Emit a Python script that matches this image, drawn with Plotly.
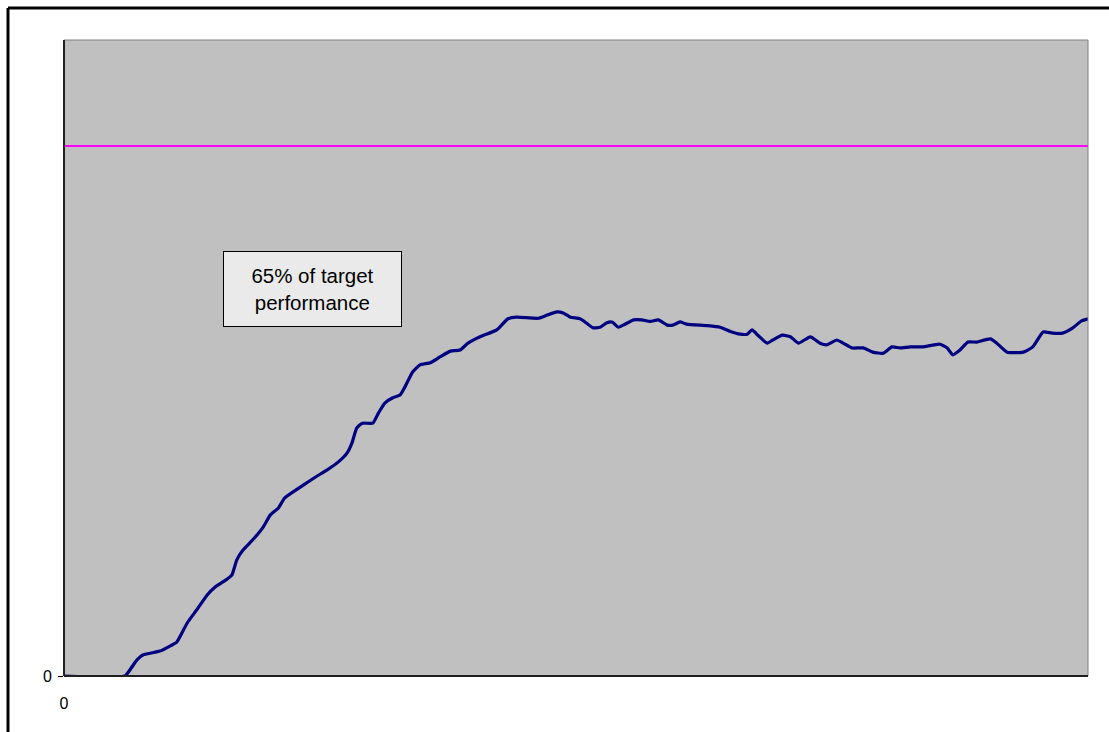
import plotly.graph_objects as go

# Performance over time (x in sample units, y in % of target)
time_x = [0, 7.6, 8.4, 9.1, 9.9, 10.8, 12.0, 13.3, 14.1, 15.4, 16.6, 17.9, 18.9, 20.4, 21.0,
          21.6, 22.4, 23.6, 24.9, 25.8, 26.8, 27.6, 29.9, 31.4, 32.9, 34.3, 35.4, 36.0, 36.6,
          37.3, 38.6, 39.3, 40.1, 41.1, 42.0, 42.6, 43.6, 44.5, 45.8, 47.0, 48.3, 49.5, 50.5,
          52.0, 54.1, 55.5, 56.6, 59.3, 60.4, 61.6, 62.4, 63.3, 64.5, 65.3, 66.1, 67.0, 67.8,
          68.5, 69.3, 69.9, 71.2, 72.2, 73.3, 74.3, 75.4, 76.1, 77.0, 77.8, 80.4, 82.0, 83.3,
          84.5, 85.4, 86.0, 86.8, 87.9, 88.6, 89.8, 90.8, 91.8, 93.3, 94.5, 95.4, 96.6, 97.4,
          98.5, 99.9, 101.1, 102.4, 103.5, 104.5, 105.8, 107.3, 109.5, 110.4, 111.1, 112.0,
          113.0, 114.1, 115.8, 116.6, 117.9, 119.9, 121.1, 122.4, 123.5, 124.8, 126.1, 127.2,
          128.0]
performance = [0, 0, 1.5, 3.0, 4.0, 4.3, 4.7, 5.7, 6.4, 10.0, 12.5, 15.3, 16.8, 18.3, 19.1,
               21.9, 23.8, 25.7, 28.1, 30.4, 31.7, 33.6, 36.0, 37.5, 38.9, 40.4, 42.1, 44.0, 46.8,
               47.7, 47.7, 49.6, 51.5, 52.5, 53.0, 54.5, 57.4, 58.7, 59.1, 60.2, 61.3, 61.5, 62.8,
               64.0, 65.3, 67.4, 67.7, 67.5, 68.1, 68.7, 68.5, 67.7, 67.4, 66.6, 65.7, 65.8, 66.6,
               66.8, 65.8, 66.2, 67.2, 67.2, 66.9, 67.2, 66.2, 66.2, 66.8, 66.4, 66.1, 65.8, 65.0,
               64.5, 64.5, 65.3, 64.2, 62.8, 63.4, 64.3, 64.0, 62.8, 64.0, 62.8, 62.5, 63.4, 62.8,
               61.9, 61.9, 61.1, 60.9, 62.1, 61.9, 62.1, 62.1, 62.6, 61.9, 60.6, 61.5,
               63.0, 63.0, 63.6, 62.8, 61.1, 61.1, 62.1, 64.9, 64.7, 64.7, 65.7, 67.0,
               67.4]

target_x = [0, 128]
target_y = [100, 100]

x_range = [0, 128]
y_range = [0, 120]

fig = go.Figure()

fig.add_trace(go.Scatter(
    x=target_x, y=target_y, mode="lines",
    line=dict(color="#FF00FF", width=2), hoverinfo="skip", showlegend=False,
))
fig.add_trace(go.Scatter(
    x=time_x, y=performance, mode="lines",
    line=dict(color="#000080", width=3.2, shape="spline", smoothing=0.5),
    showlegend=False,
))

fig.update_layout(
    width=1109, height=732,
    margin=dict(l=64, r=21, t=40, b=56),
    paper_bgcolor="white",
    plot_bgcolor="#C0C0C0",
    font=dict(family="Arial, Liberation Sans, sans-serif", color="black", size=16),
    xaxis=dict(
        range=x_range, tickvals=[0], ticktext=["0"], showgrid=False, zeroline=False,
        showline=False, ticks="outside", ticklen=13, tickcolor="rgba(0,0,0,0)",
        fixedrange=True,
    ),
    yaxis=dict(
        range=y_range, tickvals=[0], ticktext=["0"], showgrid=False, zeroline=False,
        showline=False, ticks="outside", ticklen=5, tickwidth=1, tickcolor="black",
        ticklabelstandoff=3, fixedrange=True,
    ),
    shapes=[
        # plot area frame
        dict(type="rect", xref="paper", yref="paper", x0=0, y0=0, x1=1, y1=1,
             line=dict(color="#808080", width=1)),
        # axis lines
        dict(type="line", xref="paper", yref="paper", x0=0, y0=0, x1=0, y1=1,
             line=dict(color="#202020", width=2)),
        dict(type="line", xref="paper", yref="paper", x0=0, y0=0, x1=1, y1=0,
             line=dict(color="#202020", width=2)),
        # outer chart border: left and top edges
        dict(type="line", xref="paper", yref="paper",
             x0=(8 - 64) / 1024, y0=(676 - 760) / 636,
             x1=(8 - 64) / 1024, y1=(676 - 8) / 636,
             line=dict(color="black", width=3)),
        dict(type="line", xref="paper", yref="paper",
             x0=(8 - 64) / 1024, y0=(676 - 8) / 636,
             x1=(1140 - 64) / 1024, y1=(676 - 8) / 636,
             line=dict(color="black", width=3)),
    ],
    annotations=[
        dict(
            xref="paper", yref="paper",
            x=(312.5 - 64) / 1024, y=(676 - 289) / 636,
            xanchor="center", yanchor="middle",
            text="65% of target<br>performance", showarrow=False,
            font=dict(size=20.5, color="black", family="Arial, Liberation Sans, sans-serif"),
            bgcolor="#EAEAEA", bordercolor="black", borderwidth=1, borderpad=0,
            width=177, height=74, align="center",
        )
    ],
)

fig.write_html("out.html")
